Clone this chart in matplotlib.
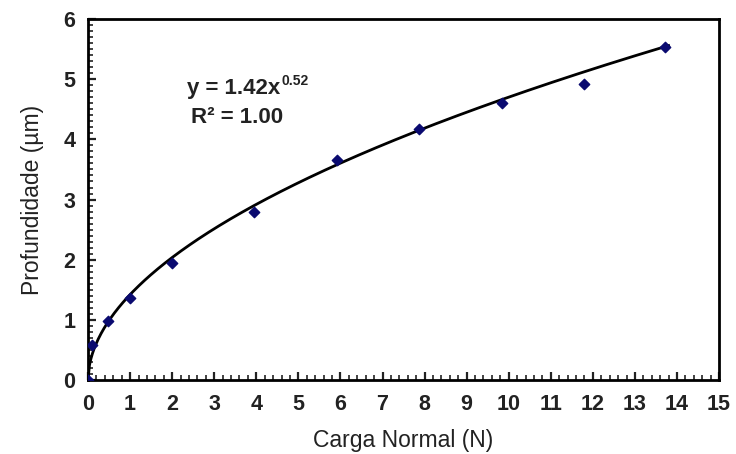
import numpy as np
import matplotlib.pyplot as plt
from matplotlib.ticker import MultipleLocator

# Datos
carga = [0.0, 0.1, 0.48, 1.0, 2.0, 3.95, 5.92, 7.87, 9.84, 11.79, 13.72]
profundidad = [0.0, 0.58, 0.98, 1.36, 1.94, 2.80, 3.65, 4.18, 4.60, 4.92, 5.53]

# Ajuste potencial y = a x^b
a = 1.42
b = 0.52
x_max_ajuste = 13.8

plt.rcParams['font.family'] = ['Liberation Sans', 'DejaVu Sans']

fig = plt.figure(figsize=(7.36, 4.54), dpi=100)
ax = fig.add_axes([0.1196, 0.163, 0.8574, 0.795])

x = np.linspace(0, x_max_ajuste, 400)
ax.plot(x, a * x ** b, color="black", linewidth=2)
ax.scatter(carga, profundidad, marker="D", s=28, color="#0a0a70", zorder=3)

ax.set_xlim(0, 15)
ax.set_ylim(0, 6)
ax.xaxis.set_major_locator(MultipleLocator(1))
ax.xaxis.set_minor_locator(MultipleLocator(0.2))
ax.yaxis.set_major_locator(MultipleLocator(1))
ax.yaxis.set_minor_locator(MultipleLocator(0.1))
ax.tick_params(which="both", direction="in", labelsize=15.5, colors="#222222")
ax.tick_params(which="major", length=6, width=1.6)
ax.tick_params(which="minor", length=3.5, width=1.2)
ax.tick_params(axis="x", pad=10)
ax.tick_params(axis="y", pad=9)
for lbl in ax.get_xticklabels() + ax.get_yticklabels():
    lbl.set_fontweight("bold")

for s in ax.spines.values():
    s.set_linewidth(2)

ax.set_xlabel("Carga Normal (N)", fontsize=16.5, color="#222222", labelpad=10)
ax.set_ylabel("Profundidade (\u00b5m)", fontsize=16.5, color="#222222", labelpad=14)

# Ecuacion del ajuste
ax.text(4.56, 4.85, "y = 1.42x", fontsize=16, fontweight="bold",
        ha="right", va="center", color="#222222")
ax.text(4.6, 4.97, "0.52", fontsize=10, fontweight="bold",
        ha="left", va="center", color="#222222")
ax.text(3.55, 4.37, "R\u00b2 = 1.00", fontsize=16, fontweight="bold",
        ha="center", va="center", color="#222222")

fig.savefig("out.png", dpi=100)
